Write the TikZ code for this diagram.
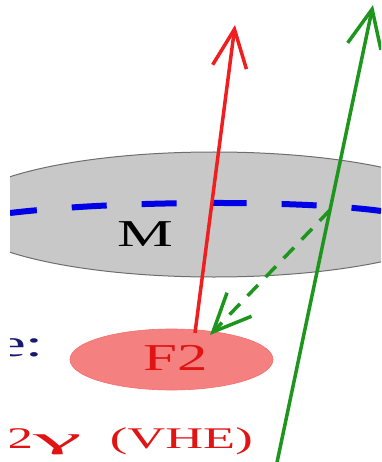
\documentclass[tikz,border=0pt]{standalone}
\usepackage{fontspec}
\setmainfont{Liberation Serif}
\usepackage{graphicx}
\usetikzlibrary{arrows.meta,shapes.geometric}
\definecolor{diskgray}{RGB}{200,200,200}
\definecolor{diskedge}{RGB}{110,110,110}
\definecolor{eqblue}{RGB}{0,0,230}
\definecolor{jetred}{RGB}{240,30,30}
\definecolor{txtred}{RGB}{225,20,20}
\definecolor{blobred}{RGB}{245,128,128}
\definecolor{rayg}{RGB}{30,150,30}
\definecolor{navy}{RGB}{25,25,110}
\begin{document}
\begin{tikzpicture}[x=1pt,y=-1pt,
  ray/.style={line width=3.5pt},
  tipbarb/.style={-{Straight Barb[length=38pt,width=34pt]}},
  lbl/.style={inner sep=0pt, font=\fontsize{38}{38}\selectfont}]
\useasboundingbox (0,0) rectangle (381,462);
\clip (10,0) rectangle (381,462);
% disc M
\draw[fill=diskgray, draw=diskedge, line width=1pt] (214,214.5) ellipse [x radius=256, y radius=62.5];
% equator
\coordinate (eqL) at (10,213);
\coordinate (eqR) at (381,211);
\draw[eqblue, line width=6pt, dash pattern=on 35pt off 35pt, dash phase=8pt]
  (eqL) .. controls (120,200) and (300,200) .. (eqR);
% F2 blob
\node[ellipse, fill=blobred, draw=blobred!85!red, line width=0.6pt,
      minimum width=203pt, minimum height=61pt, inner sep=0pt] (f2) at (171.5,359.5) {};
\node[lbl, text=txtred] (f2t) at (176,357.5) {\scalebox{1.6}[1]{F2}};
% red jet
\coordinate (rs) at (195,333);
\coordinate (rt) at (235,25);
\draw[ray, jetred, tipbarb] (rs) -- (rt);
% green ray
\coordinate (gs) at (275,472);
\coordinate (gt) at (373,5);
\draw[ray, rayg, tipbarb] (gs) -- (gt);
% green dashed
\coordinate (ds) at (330,210);
\coordinate (dt) at (210,335);
\draw[ray, rayg, dash pattern=on 15pt off 11pt, tipbarb] (ds) -- (dt);
% labels
\node[lbl] (m) at (145.5,234.5) {\scalebox{1.65}[1]{M}};
\node[lbl, text=navy, anchor=base east] (e) at (44,356) {\scalebox{1.7}[1]{e:}};
\node[inner sep=0pt, font=\fontsize{30}{30}\selectfont, text=txtred, anchor=base east] (vhe) at (253,448)
  {\scalebox{1.75}[1]{2\scalebox{2.1}[1]{γ}\hspace{16pt}(VHE)}};
\end{tikzpicture}
\end{document}
